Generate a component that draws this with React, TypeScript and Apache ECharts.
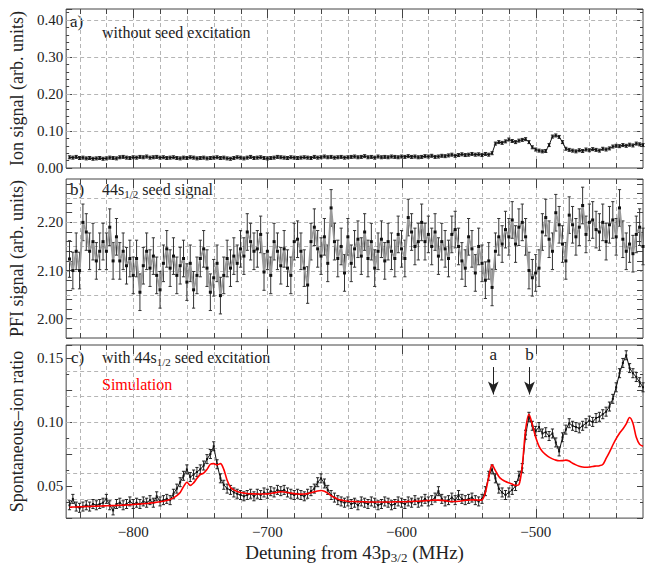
import React, { useEffect, useRef } from "react";
import * as echarts from "echarts";

const FONT = '"Liberation Serif", "DejaVu Serif", serif';

// Scan grid (detuning in MHz): start and step of the measured scan
const scanStart = -847.5;
const scanStep = 2.5;

// Panel a) ion signal without seed excitation
const ionSignal = [
  0.029, 0.028, 0.030, 0.027, 0.028, 0.026, 0.027, 0.025, 0.026, 0.027,
  0.025, 0.026, 0.028, 0.027, 0.026, 0.029, 0.030, 0.028, 0.027, 0.029,
  0.028, 0.030, 0.029, 0.031, 0.028, 0.029, 0.030, 0.028, 0.029, 0.027,
  0.028, 0.029, 0.027, 0.026, 0.028, 0.027, 0.029, 0.028, 0.026, 0.027,
  0.028, 0.026, 0.027, 0.028, 0.029, 0.027, 0.028, 0.026, 0.025, 0.027,
  0.029, 0.028, 0.026, 0.028, 0.030, 0.027, 0.028, 0.029, 0.027, 0.026,
  0.027, 0.028, 0.030, 0.029, 0.028, 0.027, 0.029, 0.028, 0.027, 0.028,
  0.029, 0.028, 0.027, 0.030, 0.028, 0.029, 0.031, 0.029, 0.030, 0.028,
  0.029, 0.030, 0.028, 0.029, 0.030, 0.031, 0.029, 0.030, 0.032, 0.029,
  0.030, 0.028, 0.031, 0.029, 0.030, 0.029, 0.031, 0.030, 0.029, 0.031,
  0.030, 0.032, 0.030, 0.031, 0.029, 0.030, 0.032, 0.031, 0.033, 0.030,
  0.031, 0.033, 0.032, 0.034, 0.036, 0.033, 0.035, 0.037, 0.035, 0.036,
  0.038, 0.036, 0.037, 0.035, 0.038, 0.036, 0.040, 0.066, 0.070, 0.068,
  0.072, 0.077, 0.073, 0.070, 0.074, 0.076, 0.078, 0.070, 0.056, 0.050,
  0.047, 0.045, 0.046, 0.062, 0.085, 0.088, 0.084, 0.070, 0.052, 0.049,
  0.047, 0.045, 0.048, 0.046, 0.050, 0.048, 0.051, 0.049, 0.047, 0.052,
  0.050, 0.053, 0.058, 0.060, 0.059, 0.062, 0.060, 0.063, 0.061, 0.066,
  0.064, 0.062,
];

// Panel b) 44s1/2 seed (PFI) signal
const pfiSignal = [
  2.124, 2.100, 2.140, 2.100, 2.200, 2.180, 2.140, 2.160, 2.120, 2.140,
  2.160, 2.140, 2.190, 2.120, 2.170, 2.120, 2.140, 2.110, 2.125, 2.090,
  2.125, 2.055, 2.110, 2.140, 2.105, 2.130, 2.090, 2.060, 2.115, 2.145,
  2.105, 2.130, 2.090, 2.110, 2.125, 2.076, 2.115, 2.060, 2.090, 2.125,
  2.145, 2.105, 2.055, 2.085, 2.115, 2.048, 2.090, 2.125, 2.105, 2.130,
  2.115, 2.145, 2.130, 2.180, 2.160, 2.140, 2.145, 2.175, 2.097, 2.140,
  2.090, 2.160, 2.140, 2.110, 2.145, 2.105, 2.090, 2.160, 2.165, 2.140,
  2.105, 2.070, 2.160, 2.190, 2.145, 2.130, 2.170, 2.115, 2.230, 2.160,
  2.125, 2.150, 2.095, 2.170, 2.115, 2.145, 2.165, 2.130, 2.180, 2.125,
  2.160, 2.105, 2.140, 2.165, 2.120, 2.160, 2.140, 2.125, 2.175, 2.145,
  2.125, 2.210, 2.180, 2.150, 2.160, 2.200, 2.160, 2.175, 2.150, 2.180,
  2.130, 2.160, 2.145, 2.125, 2.175, 2.185, 2.150, 2.120, 2.105, 2.170,
  2.145, 2.095, 2.150, 2.115, 2.080, 2.120, 2.065, 2.140, 2.170, 2.155,
  2.185, 2.170, 2.205, 2.155, 2.190, 2.200, 2.170, 2.100, 2.085, 2.095,
  2.105, 2.180, 2.210, 2.165, 2.140, 2.220, 2.195, 2.155, 2.120, 2.215,
  2.195, 2.170, 2.190, 2.235, 2.175, 2.200, 2.205, 2.185, 2.180, 2.200,
  2.160, 2.195, 2.205, 2.170, 2.230, 2.165, 2.140, 2.155, 2.135, 2.175,
  2.190, 2.150,
];

// Panel c) spontaneous-ion ratio with seed excitation (measured)
const ratioData = [
  0.035, 0.040, 0.034, 0.033, 0.034, 0.035, 0.034, 0.036, 0.035, 0.036,
  0.037, 0.040, 0.035, 0.031, 0.036, 0.037, 0.035, 0.036, 0.038, 0.036,
  0.037, 0.036, 0.038, 0.037, 0.039, 0.037, 0.042, 0.038, 0.039, 0.040,
  0.039, 0.044, 0.048, 0.053, 0.058, 0.063, 0.057, 0.059, 0.061, 0.063,
  0.066, 0.071, 0.075, 0.081, 0.067, 0.056, 0.051, 0.048, 0.047, 0.045,
  0.044, 0.043, 0.042, 0.043, 0.044, 0.042, 0.044, 0.043, 0.045, 0.044,
  0.046, 0.045, 0.047, 0.046, 0.047, 0.045, 0.044, 0.043, 0.044, 0.043,
  0.042, 0.044, 0.046, 0.048, 0.053, 0.056, 0.052, 0.047, 0.043, 0.041,
  0.039, 0.038, 0.037, 0.038, 0.036, 0.037, 0.035, 0.038, 0.037, 0.036,
  0.038, 0.037, 0.035, 0.036, 0.038, 0.037, 0.035, 0.036, 0.038, 0.037,
  0.036, 0.038, 0.037, 0.039, 0.037, 0.038, 0.040, 0.038, 0.039, 0.041,
  0.046, 0.040, 0.038, 0.039, 0.041, 0.039, 0.043, 0.040, 0.039, 0.040,
  0.041, 0.039, 0.038, 0.040, 0.046, 0.058, 0.063, 0.056, 0.048, 0.045,
  0.043, 0.045, 0.047, 0.050, 0.058, 0.064, 0.090, 0.104, 0.097, 0.093,
  0.096, 0.091, 0.092, 0.089, 0.091, 0.084, 0.077, 0.088, 0.094, 0.099,
  0.097, 0.096, 0.095, 0.097, 0.099, 0.101, 0.100, 0.103, 0.104, 0.106,
  0.108, 0.112, 0.118, 0.127, 0.138, 0.146, 0.152, 0.142, 0.138, 0.135,
  0.131, 0.127,
];

// Panel c) simulation (red)
const simulation = [
  0.0335, 0.0336, 0.0337, 0.0338, 0.0339, 0.0340, 0.0341, 0.0342, 0.0343, 0.0344,
  0.0345, 0.0346, 0.0347, 0.0348, 0.0349, 0.0350, 0.0351, 0.0352, 0.0354, 0.0356,
  0.0358, 0.0360, 0.0362, 0.0364, 0.0367, 0.0370, 0.0373, 0.0377, 0.0382, 0.0388,
  0.0396, 0.0408, 0.0425, 0.0450, 0.0495, 0.0530, 0.0505, 0.0525, 0.0560, 0.0590,
  0.0600, 0.0630, 0.0670, 0.0675, 0.0665, 0.0675, 0.0630, 0.0545, 0.0490, 0.0470,
  0.0458, 0.0450, 0.0445, 0.0442, 0.0440, 0.0439, 0.0438, 0.0438, 0.0438, 0.0439,
  0.0442, 0.0447, 0.0452, 0.0455, 0.0454, 0.0450, 0.0445, 0.0441, 0.0438, 0.0437,
  0.0438, 0.0441, 0.0447, 0.0455, 0.0462, 0.0465, 0.0460, 0.0445, 0.0425, 0.0410,
  0.0398, 0.0390, 0.0385, 0.0382, 0.0380, 0.0379, 0.0378, 0.0377, 0.0377, 0.0376,
  0.0376, 0.0376, 0.0375, 0.0375, 0.0375, 0.0376, 0.0376, 0.0377, 0.0377, 0.0378,
  0.0378, 0.0379, 0.0380, 0.0381, 0.0382, 0.0383, 0.0385, 0.0387, 0.0389, 0.0390,
  0.0390, 0.0388, 0.0385, 0.0382, 0.0380, 0.0379, 0.0381, 0.0385, 0.0389, 0.0390,
  0.0392, 0.0392, 0.0390, 0.0392, 0.0450, 0.0570, 0.0665, 0.0620, 0.0575, 0.0550,
  0.0535, 0.0525, 0.0515, 0.0505, 0.0510, 0.0660, 0.0940, 0.1060, 0.0980, 0.0880,
  0.0810, 0.0770, 0.0745, 0.0725, 0.0712, 0.0702, 0.0697, 0.0698, 0.0702, 0.0695,
  0.0678, 0.0665, 0.0655, 0.0648, 0.0646, 0.0648, 0.0653, 0.0656, 0.0659, 0.0668,
  0.0715, 0.0765, 0.0820, 0.0870, 0.0912, 0.0945, 0.0985, 0.1035, 0.0990, 0.0880,
  0.0825, 0.0810,
];

// Error bar half-widths per panel
const errIon = 0.004;
const errPfi = 0.038;
const errRatio = 0.0035;

// Axis ticks / grid lines
const xGridValues = [
  -840, -820, -800, -780, -760, -740, -720, -700, -680, -660, -640,
  -620, -600, -580, -560, -540, -520, -500, -480, -460, -440,
];
const xLabelValues = [-800, -700, -600, -500];
const yGridA = [0.1, 0.2, 0.3, 0.4];
const yGridB = [2.0, 2.05, 2.1, 2.15, 2.2, 2.25];
const yGridC = [0.04, 0.06, 0.08, 0.1, 0.12, 0.14];

// Resonance markers
const markerLabels = ["a", "b"];
const markerPositions = [-531.6, -504.6];

const toPairs = (vals: number[]) => vals.map((v, i) => [scanStart + scanStep * i, v]);

const isMultiple = (v: number, step: number) =>
  Math.abs(v / step - Math.round(v / step)) < 1e-6;

const GRID_COLOR = "#b5b5b5";
const FRAME_COLOR = "#444";

function makeFrame(yGrid: number[]) {
  return (params: any, api: any) => {
    const cs = params.coordSys;
    const top = cs.y;
    const bottom = cs.y + cs.height;
    const left = cs.x;
    const right = cs.x + cs.width;
    const xRef = api.value(0);
    const yRef = api.value(1);
    const children: any[] = [];
    for (const gx of xGridValues) {
      const px = Math.round(api.coord([gx, yRef])[0]) + 0.5;
      children.push({
        type: "line",
        shape: { x1: px, y1: top, x2: px, y2: bottom },
        style: { stroke: GRID_COLOR, lineWidth: 1, lineDash: [4, 3] },
      });
      const len = xLabelValues.includes(gx) ? 9 : 5;
      children.push({
        type: "line",
        shape: { x1: px, y1: bottom, x2: px, y2: bottom - len },
        style: { stroke: FRAME_COLOR, lineWidth: 1 },
      });
      children.push({
        type: "line",
        shape: { x1: px, y1: top, x2: px, y2: top + len },
        style: { stroke: FRAME_COLOR, lineWidth: 1 },
      });
    }
    for (const gy of yGrid) {
      const py = Math.round(api.coord([xRef, gy])[1]) + 0.5;
      children.push({
        type: "line",
        shape: { x1: left, y1: py, x2: right, y2: py },
        style: { stroke: GRID_COLOR, lineWidth: 1, lineDash: [4, 3] },
      });
    }
    return { type: "group", children };
  };
}

function makeErrorBars(err: number, color: string) {
  return (params: any, api: any) => {
    const x = api.value(0);
    const y = api.value(1);
    const hi = api.coord([x, y + err]);
    const lo = api.coord([x, y - err]);
    const cap = 1.6;
    const st = { stroke: color, lineWidth: 1 };
    return {
      type: "group",
      children: [
        { type: "line", shape: { x1: hi[0], y1: hi[1], x2: lo[0], y2: lo[1] }, style: st },
        { type: "line", shape: { x1: hi[0] - cap, y1: hi[1], x2: hi[0] + cap, y2: hi[1] }, style: st },
        { type: "line", shape: { x1: lo[0] - cap, y1: lo[1], x2: lo[0] + cap, y2: lo[1] }, style: st },
      ],
    };
  };
}

const tickLabelStyle = { fontFamily: FONT, fontSize: 15, color: "#222" };
const nameStyle = { fontFamily: FONT, fontSize: 18, color: "#222" };

function yAxisPair(
  gridIndex: number,
  min: number,
  max: number,
  interval: number,
  labelStep: number,
  name: string,
  minorSplit: number,
  skipBelow: number
) {
  const common = {
    type: "value",
    gridIndex,
    min,
    max,
    interval,
    splitLine: { show: false },
    axisLine: { show: false },
    axisTick: { show: true, inside: true, length: 6, lineStyle: { color: FRAME_COLOR } },
    minorTick: { show: minorSplit > 1, splitNumber: minorSplit, length: 3, lineStyle: { color: FRAME_COLOR } },
  };
  return [
    {
      ...common,
      position: "left",
      name,
      nameLocation: "middle",
      nameGap: 34,
      nameTextStyle: nameStyle,
      axisLabel: {
        ...tickLabelStyle,
        margin: 3,
        showMaxLabel: false,
        formatter: (v: number) =>
          isMultiple(v, labelStep) && v > skipBelow && v < max - 1e-9 ? v.toFixed(2) : "",
      },
    },
    {
      ...common,
      position: "right",
      axisLabel: { show: false },
    },
  ];
}

function xAxisFor(gridIndex: number, showLabels: boolean) {
  return {
    type: "value",
    gridIndex,
    min: -850,
    max: -420,
    interval: 50,
    axisLine: { show: false },
    axisTick: { show: false },
    splitLine: { show: false },
    axisLabel: showLabels
      ? {
          ...tickLabelStyle,
          margin: 6,
          formatter: (v: number) =>
            xLabelValues.includes(v) ? "\u2212" + Math.abs(v) : "",
        }
      : { show: false },
    name: showLabels ? "Detuning from 43p{sub|3/2} (MHz)" : "",
    nameLocation: "middle",
    nameGap: 19,
    nameTextStyle: {
      fontFamily: FONT,
      fontSize: 19,
      color: "#222",
      lineHeight: 24,
      verticalAlign: "top",
      rich: {
        sub: { fontFamily: FONT, fontSize: 13, lineHeight: 13, color: "#222", verticalAlign: "bottom" },
      },
    },
  };
}

const subRich = (size: number) => ({
  sub: { fontFamily: FONT, fontSize: size, lineHeight: size, fill: "#222", verticalAlign: "bottom" },
});

function textEl(x: number, y: number, text: string, fontSize: number, fill = "#222", rich?: any) {
  return {
    type: "text",
    x,
    y,
    silent: true,
    style: {
      text,
      fontFamily: FONT,
      fontSize,
      fill,
      verticalAlign: "middle",
      lineHeight: fontSize + 4,
      ...(rich ? { rich } : {}),
    },
  };
}

const option: any = {
  animation: false,
  backgroundColor: "#ffffff",
  grid: [
    { left: 60, top: 9, width: 583, height: 159, show: true, borderColor: FRAME_COLOR, borderWidth: 1, backgroundColor: "transparent" },
    { left: 60, top: 179, width: 583, height: 159, show: true, borderColor: FRAME_COLOR, borderWidth: 1, backgroundColor: "transparent" },
    { left: 60, top: 345, width: 583, height: 177, show: true, borderColor: FRAME_COLOR, borderWidth: 1, backgroundColor: "transparent" },
  ],
  xAxis: [xAxisFor(0, false), xAxisFor(1, false), xAxisFor(2, true)],
  yAxis: [
    ...yAxisPair(0, 0, 0.43, 0.1, 0.1, "Ion signal (arb. units)", 5, -1),
    ...yAxisPair(1, 1.96, 2.29, 0.02, 0.1, "PFI signal (arb. units)", 0, 0),
    ...yAxisPair(2, 0.025, 0.16, 0.025, 0.05, "Spontaneous\u2013ion ratio", 2, 0.03),
  ],
  graphic: [
    textEl(70, 21, "a)", 17),
    textEl(102, 32, "without seed excitation", 16),
    textEl(70, 189, "b)", 17),
    textEl(102, 189, "44s{sub|1/2} seed signal", 16, "#222", subRich(11)),
    textEl(71, 357, "c)", 17),
    textEl(102, 357, "with 44s{sub|1/2} seed excitation", 16, "#222", subRich(11)),
    textEl(102, 384, "Simulation", 16, "#ff0000"),
  ],
  series: [
    // frames / grids
    { type: "custom", xAxisIndex: 0, yAxisIndex: 0, data: [[-850, 0]], renderItem: makeFrame(yGridA), silent: true, z: 1 },
    { type: "custom", xAxisIndex: 1, yAxisIndex: 2, data: [[-850, 1.96]], renderItem: makeFrame(yGridB), silent: true, z: 1 },
    { type: "custom", xAxisIndex: 2, yAxisIndex: 4, data: [[-850, 0.025]], renderItem: makeFrame(yGridC), silent: true, z: 1 },
    // panel a
    { type: "custom", xAxisIndex: 0, yAxisIndex: 0, data: toPairs(ionSignal), renderItem: makeErrorBars(errIon, "#222"), encode: { x: 0, y: 1 }, silent: true, z: 2 },
    {
      type: "line", xAxisIndex: 0, yAxisIndex: 0, data: toPairs(ionSignal),
      symbol: "rect", symbolSize: 2, showSymbol: true,
      lineStyle: { color: "#111", width: 1 }, itemStyle: { color: "#111" }, silent: true, z: 3,
    },
    // panel b
    { type: "custom", xAxisIndex: 1, yAxisIndex: 2, data: toPairs(pfiSignal), renderItem: makeErrorBars(errPfi, "#333"), encode: { x: 0, y: 1 }, silent: true, z: 2 },
    {
      type: "line", xAxisIndex: 1, yAxisIndex: 2, data: toPairs(pfiSignal),
      symbol: "rect", symbolSize: 3, showSymbol: true,
      lineStyle: { color: "#9a9a9a", width: 2 }, itemStyle: { color: "#111" }, silent: true, z: 3,
    },
    // panel c
    { type: "custom", xAxisIndex: 2, yAxisIndex: 4, data: toPairs(ratioData), renderItem: makeErrorBars(errRatio, "#222"), encode: { x: 0, y: 1 }, silent: true, z: 2 },
    {
      type: "line", xAxisIndex: 2, yAxisIndex: 4, data: toPairs(ratioData),
      symbol: "rect", symbolSize: 2, showSymbol: true,
      lineStyle: { color: "#111", width: 1 }, itemStyle: { color: "#111" }, silent: true, z: 3,
      markLine: {
        silent: true,
        symbol: ["none", "arrow"],
        symbolSize: [8, 13],
        lineStyle: { color: "#222", width: 1, type: "solid" },
        label: { show: true, position: "start", distance: 4, fontFamily: FONT, fontSize: 17, color: "#222" },
        data: markerPositions.map((mx, k) => [
          { coord: [mx, 0.1428], label: { formatter: markerLabels[k] } },
          { coord: [mx, 0.1214] },
        ]),
      },
    },
    {
      type: "line", xAxisIndex: 2, yAxisIndex: 4, data: toPairs(simulation),
      smooth: 0.3, showSymbol: false, symbol: "none",
      lineStyle: { color: "#ff0000", width: 1.6 }, silent: true, z: 4,
    },
  ],
};

export default function App() {
  const ref = useRef<HTMLDivElement>(null);
  useEffect(() => {
    if (!ref.current) return;
    const chart = echarts.init(ref.current, undefined, { renderer: "svg" });
    chart.setOption(option);
    return () => chart.dispose();
  }, []);
  return (
    <div
      ref={ref}
      style={{ position: "absolute", left: 0, top: 0, width: 648, height: 565 }}
    />
  );
}
